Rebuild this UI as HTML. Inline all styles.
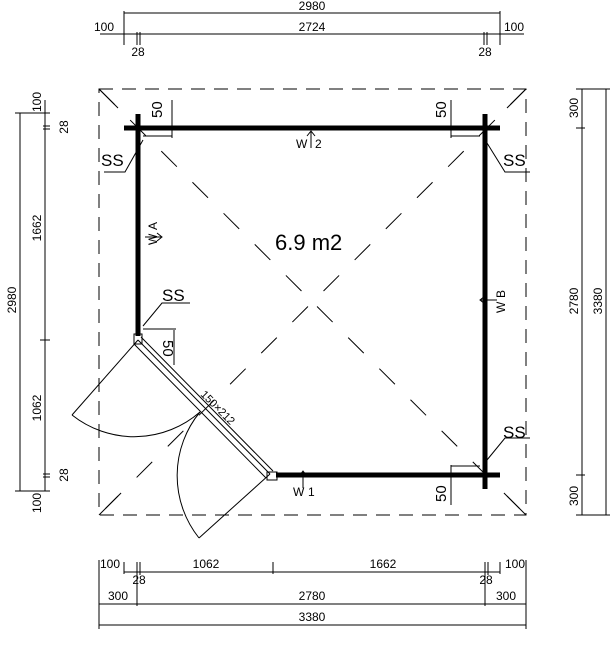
<!DOCTYPE html>
<html><head><meta charset="utf-8"><style>body{margin:0;background:#fff}svg{display:block}text{font-family:"Liberation Sans",sans-serif;fill:#000}</style></head><body>
<svg width="616" height="645" viewBox="0 0 616 645" xmlns="http://www.w3.org/2000/svg" font-size="12">
<g stroke="#000" stroke-width="1" fill="none">
<line x1="124" y1="13" x2="500" y2="13"/><line x1="124" y1="34" x2="500" y2="34"/>
<line x1="124" y1="11" x2="124" y2="45"/><line x1="500" y1="11" x2="500" y2="45"/>
<line x1="137" y1="32" x2="137" y2="45"/><line x1="140" y1="32" x2="140" y2="45"/>
<line x1="484" y1="32" x2="484" y2="45"/><line x1="487" y1="32" x2="487" y2="45"/>
<line x1="100" y1="34" x2="124" y2="34"/><line x1="500" y1="34" x2="524" y2="34"/>
<line x1="20" y1="113" x2="20" y2="491"/><line x1="45" y1="100" x2="45" y2="491"/>
<line x1="15" y1="113" x2="50" y2="113"/><line x1="15" y1="491" x2="50" y2="491"/>
<line x1="43" y1="126" x2="50" y2="126"/><line x1="43" y1="129" x2="50" y2="129"/>
<line x1="43" y1="474" x2="50" y2="474"/><line x1="43" y1="477" x2="50" y2="477"/>
<line x1="40" y1="340" x2="50" y2="340"/>
<line x1="582" y1="89" x2="582" y2="515"/><line x1="606" y1="89" x2="606" y2="515"/>
<line x1="576" y1="89" x2="610" y2="89"/><line x1="576" y1="515" x2="610" y2="515"/>
<line x1="576" y1="128" x2="585" y2="128"/><line x1="576" y1="475" x2="585" y2="475"/>
<line x1="124" y1="572" x2="500" y2="572"/><line x1="99" y1="604" x2="526" y2="604"/><line x1="99" y1="625" x2="526" y2="625"/>
<line x1="99" y1="560" x2="99" y2="629"/><line x1="526" y1="560" x2="526" y2="629"/>
<line x1="124" y1="562" x2="124" y2="574"/><line x1="500" y1="562" x2="500" y2="574"/>
<line x1="137" y1="562" x2="137" y2="606"/><line x1="140" y1="562" x2="140" y2="575"/>
<line x1="485" y1="562" x2="485" y2="606"/><line x1="488" y1="562" x2="488" y2="575"/>
<line x1="273" y1="562" x2="273" y2="574"/>
<rect x="99" y="89" width="427" height="426" stroke-dasharray="14,9"/>
<line x1="99" y1="89" x2="526" y2="515" stroke-dasharray="22,22"/>
<line x1="526" y1="89" x2="99" y2="515" stroke-dasharray="22,22"/>
<line x1="99" y1="89" x2="118" y2="108"/><line x1="526" y1="89" x2="507" y2="108"/>
<line x1="99" y1="515" x2="118" y2="496"/><line x1="526" y1="515" x2="507" y2="496"/>
<line x1="172" y1="100" x2="172" y2="138"/><line x1="143" y1="136" x2="172" y2="136"/>
<line x1="451" y1="100" x2="451" y2="138"/><line x1="451" y1="136" x2="480" y2="136"/>
<line x1="174" y1="330" x2="174" y2="365"/><line x1="143" y1="329" x2="176" y2="329"/>
<line x1="451" y1="465" x2="451" y2="505"/><line x1="451" y1="466" x2="480" y2="466"/>
<line x1="134" y1="344" x2="266" y2="478"/><line x1="138" y1="340" x2="270" y2="474"/><line x1="141" y1="337" x2="273" y2="471"/>
<rect x="134" y="334" width="8" height="10"/><rect x="267" y="472" width="10" height="8"/>
<line x1="138" y1="340" x2="72" y2="415"/><path d="M72 415 A100 100 0 0 0 200 412"/>
<line x1="270" y1="474" x2="199" y2="538"/><path d="M199 538 A100 100 0 0 1 200 412"/>
<path d="M104 172 L125 172 L143 140"/><path d="M530 172 L505 172 L487 143"/>
<path d="M190 303 L162 303 L143 326"/><path d="M530 438 L505 438 L487 460"/>
</g>
<g stroke="#000" stroke-width="5">
<line x1="124" y1="128" x2="500" y2="128"/><line x1="138" y1="114" x2="138" y2="336"/>
<line x1="485" y1="114" x2="485" y2="489"/><line x1="276" y1="475" x2="500" y2="475"/>
</g>
<g stroke="#000" stroke-width="1" fill="none">
<path d="M311 148 V132 M307 136 L311 131 L315 136"/><path d="M303 488 V472 M299 476 L303 471 L307 476"/>
<path d="M145 237 H161 M157 233 L162 237 L157 241"/><path d="M497 300 H481 M485 296 L480 300 L485 304"/>
</g>
<text x="296" y="148">W</text><text x="315" y="148">2</text>
<text x="293" y="496">W</text><text x="308" y="496">1</text>
<text x="312" y="10" text-anchor="middle">2980</text><text x="312" y="31" text-anchor="middle">2724</text>
<text x="104" y="31" text-anchor="middle">100</text><text x="514" y="31" text-anchor="middle">100</text>
<text x="138" y="56" text-anchor="middle">28</text><text x="485" y="56" text-anchor="middle">28</text>
<text x="101" y="166" font-size="17">SS</text><text x="503" y="166" font-size="17">SS</text>
<text x="162" y="301" font-size="17">SS</text><text x="503" y="438" font-size="17">SS</text>
<text x="275" y="250" font-size="22">6.9 m2</text>
<text x="162" y="118" transform="rotate(-90 162 118)" font-size="15">50</text>
<text x="446" y="118" transform="rotate(-90 446 118)" font-size="15">50</text>
<text x="446" y="502" transform="rotate(-90 446 502)" font-size="15">50</text>
<text x="163" y="340" transform="rotate(90 163 340)" font-size="15">50</text>
<text x="200" y="395" transform="rotate(45 200 395)" font-size="11">150×212</text>
<text x="157" y="245" transform="rotate(-90 157 245)">W</text><text x="157" y="230" transform="rotate(-90 157 230)">A</text>
<text x="505" y="313" transform="rotate(-90 505 313)">W</text><text x="505" y="298" transform="rotate(-90 505 298)">B</text>
<text x="16" y="300" transform="rotate(-90 16 300)" text-anchor="middle">2980</text>
<text x="41" y="228" transform="rotate(-90 41 228)" text-anchor="middle">1662</text>
<text x="41" y="408" transform="rotate(-90 41 408)" text-anchor="middle">1062</text>
<text x="41" y="102" transform="rotate(-90 41 102)" text-anchor="middle">100</text>
<text x="41" y="503" transform="rotate(-90 41 503)" text-anchor="middle">100</text>
<text x="68" y="127" transform="rotate(-90 68 127)" text-anchor="middle">28</text>
<text x="68" y="475" transform="rotate(-90 68 475)" text-anchor="middle">28</text>
<text x="578" y="301" transform="rotate(-90 578 301)" text-anchor="middle">2780</text>
<text x="602" y="301" transform="rotate(-90 602 301)" text-anchor="middle">3380</text>
<text x="578" y="108" transform="rotate(-90 578 108)" text-anchor="middle">300</text>
<text x="578" y="496" transform="rotate(-90 578 496)" text-anchor="middle">300</text>
<text x="110" y="568" text-anchor="middle">100</text><text x="515" y="568" text-anchor="middle">100</text>
<text x="206" y="568" text-anchor="middle">1062</text><text x="383" y="568" text-anchor="middle">1662</text>
<text x="139" y="584" text-anchor="middle">28</text><text x="486" y="584" text-anchor="middle">28</text>
<text x="118" y="600" text-anchor="middle">300</text><text x="506" y="600" text-anchor="middle">300</text>
<text x="312" y="600" text-anchor="middle">2780</text><text x="312" y="621" text-anchor="middle">3380</text>
</svg>
</body></html>
